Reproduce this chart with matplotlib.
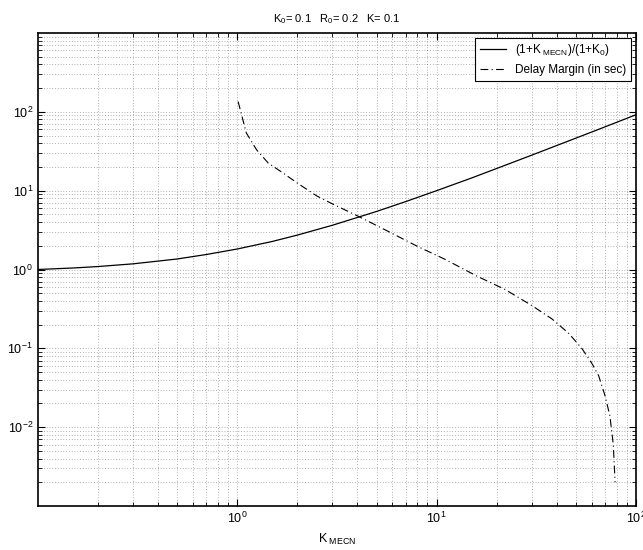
import matplotlib.pyplot as plt
from matplotlib.ticker import LogLocator, NullFormatter

plt.rcParams['font.family'] = ['Liberation Sans', 'DejaVu Sans']
plt.rcParams['mathtext.fontset'] = 'custom'
plt.rcParams['mathtext.rm'] = 'Liberation Sans'
plt.rcParams['mathtext.it'] = 'Liberation Sans'

# gain ratio (1+K_MECN)/(1+K_0)
k_ratio = [0.1, 0.15, 0.2, 0.3, 0.5, 0.7, 1, 1.5, 2, 3, 5, 7, 10, 15, 20, 30, 50, 70, 100]
ratio = [1.0, 1.045, 1.09, 1.18, 1.36, 1.55, 1.82, 2.27, 2.73, 3.64, 5.45, 7.27,
         10.0, 14.5, 19.1, 28.2, 46.4, 64.5, 91.8]

# delay margin in seconds
k_delay = [1.01, 1.11, 1.25, 1.43, 1.70, 2.0, 2.5, 3.0, 4.0, 5.5, 8.0, 11, 16, 22,
           30, 38, 46, 53.5, 60, 65, 70, 74, 77, 78.6]
delay = [135, 54, 33, 22.4, 16.7, 12.5, 8.6, 6.8, 4.8, 3.2, 1.97, 1.35, 0.82, 0.56,
         0.35, 0.235, 0.155, 0.10, 0.065, 0.045, 0.025, 0.014, 0.006, 0.002]

fig = plt.figure(figsize=(6.43, 5.5), dpi=100)
ax = fig.add_axes([0.059, 0.08, 0.93, 0.86])

ax.loglog(k_ratio, ratio, color='black', lw=0.9,
          label='(1+K$_{\\ MECN}$)/(1+K$_0$)')
ax.loglog(k_delay, delay, color='black', lw=0.8, linestyle=(0, (7, 3, 1, 3)),
          label='Delay Margin (in sec)')

ax.set_xlim(0.1, 100)
ax.set_ylim(1e-3, 1e3)
ax.set_xticks([1, 10, 100])
ax.set_yticks([1e-2, 1e-1, 1, 10, 100])
ax.xaxis.set_minor_locator(LogLocator(base=10, subs=range(2, 10), numticks=20))
ax.yaxis.set_minor_locator(LogLocator(base=10, subs=range(2, 10), numticks=20))
ax.xaxis.set_minor_formatter(NullFormatter())
ax.yaxis.set_minor_formatter(NullFormatter())

ax.grid(True, which='both', linestyle=(0, (1, 3)), color='black', lw=0.5, alpha=0.6)
ax.tick_params(which='both', direction='in', top=True, right=True, labelsize=9)
ax.tick_params(which='major', length=5)
ax.tick_params(which='minor', length=3)
for s in ax.spines.values():
    s.set_linewidth(1.2)

ax.set_title('K$_0$= 0.1   R$_0$= 0.2   K= 0.1', fontsize=8, pad=8)
ax.set_xlabel('K$_{\\ MECN}$', fontsize=9, labelpad=4)

leg = ax.legend(loc='upper right', fontsize=8.5, fancybox=False, framealpha=1,
                edgecolor='black', borderaxespad=0.4, handlelength=2.2)
leg.get_frame().set_linewidth(0.8)

fig.savefig('out.png', dpi=100)
